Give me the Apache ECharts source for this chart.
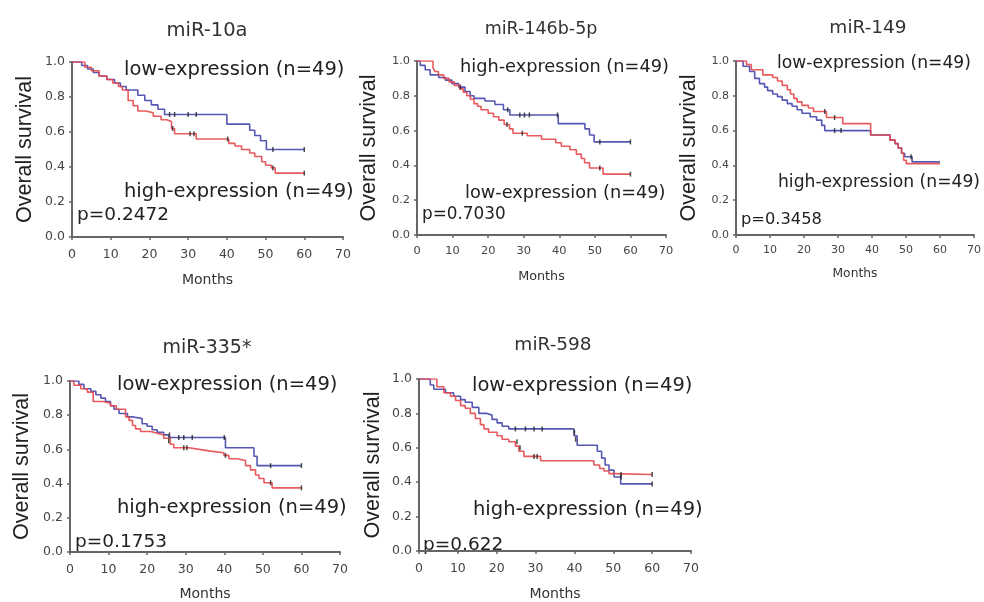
<!DOCTYPE html>
<html>
<head>
<meta charset="utf-8">
<script src="https://cdn.jsdelivr.net/npm/echarts@6/dist/echarts.min.js"></script>
<style>
html,body{margin:0;padding:0;background:#fff;}
#chart{width:984px;height:602px;}
</style>
</head>
<body>
<div id="chart"></div>
<script>
// ---------- data ----------
const titles = ['miR-10a', 'miR-146b-5p', 'miR-149', 'miR-335*', 'miR-598'];
const topLabels = ['low-expression (n=49)', 'high-expression (n=49)', 'low-expression (n=49)', 'low-expression (n=49)', 'low-expression (n=49)'];
const bottomLabels = ['high-expression (n=49)', 'low-expression (n=49)', 'high-expression (n=49)', 'high-expression (n=49)', 'high-expression (n=49)'];
const pValues = ['p=0.2472', 'p=0.7030', 'p=0.3458', 'p=0.1753', 'p=0.622'];
const xTicks = [0, 10, 20, 30, 40, 50, 60, 70];
const yTicks = [0.0, 0.2, 0.4, 0.6, 0.8, 1.0];
const xName = 'Months';
const yName = 'Overall survival';

// blue curves [months, survival]
const blue1 = [[0,1],[2.5,0.98],[4,0.96],[5.5,0.94],[7,0.92],[9,0.90],[11,0.88],[12.5,0.86],[14,0.84],[17,0.81],[18.8,0.78],[20.5,0.755],[22.2,0.73],[23.9,0.70],[40,0.645],[45.9,0.61],[47.2,0.58],[48.7,0.55],[50.2,0.50],[60,0.50]];
const red1 = [[0,1],[3.3,0.97],[5,0.95],[7,0.92],[9,0.90],[10.5,0.88],[12,0.86],[13,0.84],[14.5,0.78],[15.8,0.75],[17,0.72],[19,0.71],[21,0.69],[23,0.67],[24.5,0.66],[25.7,0.62],[26.5,0.59],[32.1,0.56],[40.5,0.535],[42.1,0.52],[43.8,0.50],[45.9,0.48],[47.2,0.46],[49,0.43],[50,0.41],[51.5,0.395],[52.5,0.365],[60,0.365]];
const blueCens1 = [[25.2,0.70],[26.5,0.70],[30,0.70],[32.1,0.70],[51.9,0.50],[60,0.50]];
const redCens1 = [[26,0.62],[30.5,0.59],[31.5,0.59],[40.2,0.56],[51.9,0.395],[60,0.365]];

const blue2 = [[0,1],[0.9,0.975],[2.3,0.95],[3.7,0.92],[6.1,0.905],[8,0.89],[9.8,0.87],[11.7,0.85],[13.5,0.825],[14.9,0.80],[16,0.785],[19.1,0.77],[21.9,0.75],[24.3,0.72],[26.1,0.69],[39.7,0.64],[47.2,0.61],[48.5,0.575],[49.8,0.535],[60,0.535]];
const red2 = [[0,1],[4.5,0.96],[5,0.94],[6,0.92],[7.5,0.90],[9,0.88],[10.5,0.86],[12,0.84],[13,0.82],[14,0.80],[15,0.78],[16,0.755],[17,0.74],[18,0.72],[20,0.70],[21.5,0.68],[23,0.66],[24.5,0.635],[26,0.61],[27,0.585],[31,0.57],[35,0.55],[39,0.53],[40.6,0.51],[43,0.49],[44.8,0.465],[46.2,0.44],[47.1,0.415],[48.5,0.385],[52.3,0.35],[60,0.35]];
const blueCens2 = [[12.2,0.85],[25.5,0.72],[28.9,0.69],[30.2,0.69],[31.6,0.69],[39.5,0.69],[51.4,0.535],[60,0.535]];
const redCens2 = [[25.3,0.635],[29.6,0.585],[51.4,0.385],[60,0.35]];

const blue3 = [[0,1],[2.1,0.97],[4,0.94],[5.5,0.90],[6.9,0.87],[8.4,0.85],[9.3,0.83],[10.8,0.81],[12.2,0.795],[13.6,0.775],[15.1,0.755],[16.5,0.74],[18,0.72],[19.4,0.70],[21.8,0.68],[23.7,0.66],[25.2,0.63],[26.1,0.60],[39.6,0.575],[45.3,0.545],[46.8,0.525],[47.7,0.50],[48.7,0.47],[49.6,0.45],[51.8,0.42],[60,0.42]];
const red3 = [[0,1],[3.1,0.98],[4.5,0.95],[7.9,0.92],[10.8,0.905],[12.2,0.885],[13.6,0.86],[15.1,0.835],[16,0.81],[17,0.785],[18,0.765],[19.4,0.745],[21.3,0.73],[22.8,0.71],[26.6,0.675],[31.4,0.64],[39.6,0.575],[45.3,0.545],[46.8,0.525],[47.7,0.50],[48.7,0.47],[49.3,0.43],[50.1,0.41],[60,0.41]];
const blueCens3 = [[29,0.60],[30.9,0.60],[51.5,0.45]];
const redCens3 = [[26.1,0.71],[29,0.675]];

const blue4 = [[0,1],[2.3,0.98],[3.6,0.955],[5.4,0.94],[6.7,0.92],[8,0.90],[9.2,0.88],[10.5,0.855],[11.4,0.835],[12.7,0.81],[14.9,0.79],[16.5,0.78],[18.7,0.75],[20,0.735],[21.3,0.715],[22.6,0.70],[24.3,0.685],[25.6,0.67],[40.3,0.61],[47.7,0.56],[48.5,0.505],[60,0.505]];
const red4 = [[0,1],[1,0.975],[2.8,0.955],[4.5,0.935],[6,0.88],[8.5,0.87],[10.5,0.855],[12,0.835],[14.4,0.79],[15.3,0.77],[16.2,0.74],[17,0.72],[18.3,0.705],[20.9,0.695],[22.6,0.685],[24.3,0.665],[26,0.63],[26.9,0.61],[30.8,0.60],[33.5,0.59],[36.4,0.58],[39.9,0.565],[41.2,0.545],[43.3,0.535],[45.5,0.505],[46.8,0.48],[48.1,0.45],[49,0.43],[50.3,0.405],[52.4,0.375],[60,0.375]];
const blueCens4 = [[25.8,0.685],[28.2,0.67],[29.5,0.67],[31.7,0.67],[40,0.67],[52,0.505],[60,0.505]];
const redCens4 = [[25.6,0.65],[29.5,0.61],[30.3,0.61],[40.3,0.565],[52,0.405],[60,0.375]];

const blue5 = [[0,1],[2.9,0.965],[3.8,0.94],[6.8,0.92],[8.9,0.90],[10.7,0.88],[11.9,0.865],[13.7,0.835],[15.4,0.80],[17.5,0.79],[18.8,0.765],[20.1,0.745],[21.4,0.725],[23.1,0.71],[39.9,0.67],[40.7,0.615],[45.9,0.58],[47,0.54],[47.9,0.50],[48.9,0.47],[50.2,0.43],[51.9,0.39],[60,0.39]];
const red5 = [[0,1],[4.6,0.955],[6.4,0.92],[8.1,0.90],[9.4,0.875],[10.7,0.845],[11.9,0.83],[13.2,0.80],[14.5,0.77],[15.8,0.735],[16.7,0.71],[17.9,0.69],[20.1,0.67],[21.4,0.65],[23.1,0.635],[24.8,0.61],[25.7,0.58],[27,0.55],[31.3,0.525],[45,0.50],[46.5,0.48],[47.6,0.465],[48.9,0.45],[50.2,0.445],[60,0.445]];
const blueCens5 = [[24.8,0.71],[27.4,0.71],[29.6,0.71],[31.7,0.71],[40,0.69],[40.3,0.65],[52,0.43],[60,0.39]];
const redCens5 = [[25.2,0.635],[26,0.60],[29.6,0.55],[30.4,0.55],[52,0.445],[60,0.445]];

const blues = [blue1, blue2, blue3, blue4, blue5];
const reds = [red1, red2, red3, red4, red5];
const blueCens = [blueCens1, blueCens2, blueCens3, blueCens4, blueCens5];
const redCens = [redCens1, redCens2, redCens3, redCens4, redCens5];

// ---------- layout ----------
const FONT = 'DejaVu Sans';
const grids = [
  {left: 72, top: 62, width: 271, height: 175},
  {left: 417, top: 61, width: 249, height: 174},
  {left: 736, top: 61, width: 242, height: 174},
  {left: 70, top: 381, width: 270, height: 178},
  {left: 419, top: 379, width: 272, height: 181}
];
const scale = [1, 0.91, 0.88, 1, 1];
const titleSize = [19.5, 17.5, 18.5, 19, 18.5];
const titlePos = [[207, 31], [541, 29], [868, 28], [207, 348], [553, 345]];
const topPos = [[124, 70], [460, 67], [777, 64], [117, 385], [472, 386]];
const botPos = [[124, 192], [465, 193], [778, 183], [117, 508], [473, 510]];
const pPos = [[77, 215], [422, 215], [741, 220], [75, 542], [423, 545]];
const yNameGap = [36, 37, 36, 37, 35];
const xNameGap = [36, 35, 33, 35, 36];
const xLabelMargin = [11, 11, 10, 11, 11];

const BLUE = '#5558b3';
const RED = '#e5484d';

const chart = echarts.init(document.getElementById('chart'), null, {renderer: 'canvas'});

const option = {
  backgroundColor: '#ffffff',
  animation: false,
  grid: grids.map(g => Object.assign({containLabel: false}, g)),
  xAxis: grids.map((g, i) => ({
    gridIndex: i, type: 'value', min: xTicks[0], max: xTicks[xTicks.length - 1], interval: 10,
    name: xName, nameLocation: 'middle', nameGap: xNameGap[i],
    nameTextStyle: {fontFamily: FONT, fontSize: 14 * scale[i], color: '#333'},
    axisLine: {show: true, onZero: false, lineStyle: {color: '#666', width: 2}},
    axisTick: {show: true, length: 3, lineStyle: {color: '#666', width: 1.5}},
    axisLabel: {fontFamily: FONT, fontSize: 12.5 * scale[i], color: '#444', margin: xLabelMargin[i]},
    splitLine: {show: false}
  })),
  yAxis: grids.map((g, i) => ({
    gridIndex: i, type: 'value', min: yTicks[0], max: yTicks[yTicks.length - 1], interval: 0.2,
    name: yName, nameLocation: 'middle', nameGap: yNameGap[i], nameRotate: 90,
    nameTextStyle: {fontFamily: 'Liberation Sans', fontSize: 21.5, color: '#222'},
    axisLine: {show: true, onZero: false, lineStyle: {color: '#666', width: 2}},
    axisTick: {show: true, length: 3, lineStyle: {color: '#666', width: 1.5}},
    axisLabel: {fontFamily: FONT, fontSize: 12.5 * scale[i], color: '#444', margin: 7,
      formatter: v => v.toFixed(1)},
    splitLine: {show: false}
  })),
  series: [],
  graphic: []
};

for (let i = 0; i < 5; i++) {
  option.series.push({
    type: 'line', step: 'end', xAxisIndex: i, yAxisIndex: i, data: blues[i],
    showSymbol: false, symbol: 'none', lineStyle: {color: BLUE, width: 1.6}, z: 2
  });
  option.series.push({
    type: 'line', step: 'end', xAxisIndex: i, yAxisIndex: i, data: reds[i],
    showSymbol: false, symbol: 'none', lineStyle: {color: RED, width: 1.6, opacity: 0.9}, z: 3
  });
  option.series.push({
    type: 'scatter', xAxisIndex: i, yAxisIndex: i, data: blueCens[i].concat(redCens[i]),
    symbol: 'rect', symbolSize: [1.5, 5], itemStyle: {color: '#222'}, z: 4
  });
  option.graphic.push({
    type: 'text', x: titlePos[i][0], y: titlePos[i][1],
    style: {text: titles[i], fontFamily: FONT, fontSize: titleSize[i], fill: '#333', align: 'center', verticalAlign: 'middle'}
  });
  option.graphic.push({
    type: 'text', x: topPos[i][0], y: topPos[i][1],
    style: {text: topLabels[i], fontFamily: FONT, fontSize: 19.5 * scale[i], fill: '#222', align: 'left', verticalAlign: 'middle'}
  });
  option.graphic.push({
    type: 'text', x: botPos[i][0], y: botPos[i][1],
    style: {text: bottomLabels[i], fontFamily: FONT, fontSize: 19.5 * scale[i], fill: '#222', align: 'left', verticalAlign: 'middle'}
  });
  option.graphic.push({
    type: 'text', x: pPos[i][0], y: pPos[i][1],
    style: {text: pValues[i], fontFamily: FONT, fontSize: 18.5 * scale[i], fill: '#222', align: 'left', verticalAlign: 'middle'}
  });
}

chart.setOption(option);
</script>
</body>
</html>
